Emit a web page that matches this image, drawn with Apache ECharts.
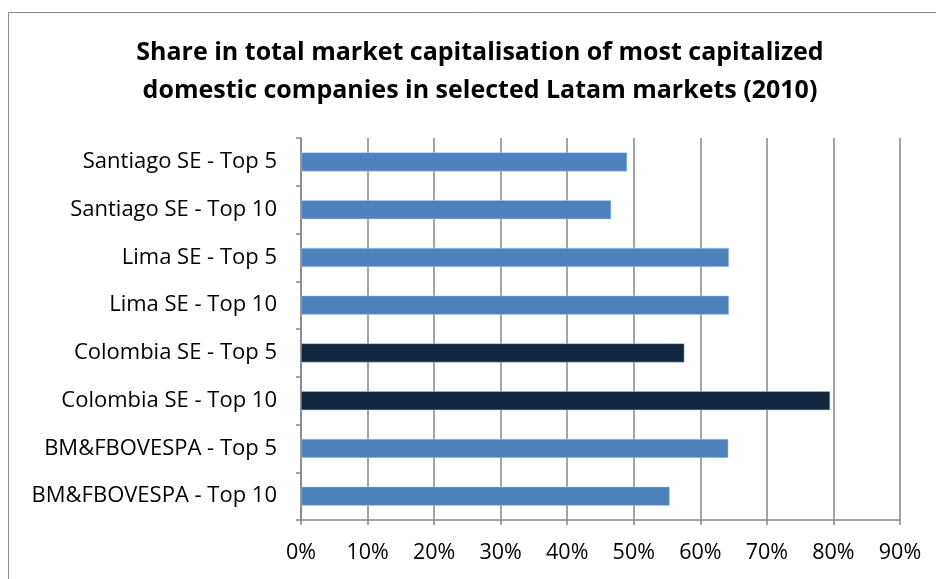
<!DOCTYPE html>
<html>
<head>
<meta charset="utf-8">
<script src="https://cdn.jsdelivr.net/npm/echarts@6/dist/echarts.min.js"></script>
<style>html,body{margin:0;padding:0;background:#fff;}#c{width:936px;height:579px;}</style>
</head>
<body>
<div id="c"></div>
<script>
const titleLines = ["Share in total market capitalisation of most capitalized", "domestic companies in selected Latam markets (2010)"];
const categories = ["Santiago SE - Top 5", "Santiago SE - Top 10", "Lima SE - Top 5", "Lima SE - Top 10", "Colombia SE - Top 5", "Colombia SE - Top 10", "BM&FBOVESPA - Top 5", "BM&FBOVESPA - Top 10"];
const shareValues = [49.0, 46.6, 64.3, 64.3, 57.6, 79.5, 64.2, 55.4];
const highlighted = ["Colombia SE - Top 5", "Colombia SE - Top 10"];
const xTicks = [0, 10, 20, 30, 40, 50, 60, 70, 80, 90];

const FONT = "'Open Sans', sans-serif";
const chart = echarts.init(document.getElementById('c'));
chart.setOption({
  animation: false,
  backgroundColor: '#ffffff',
  graphic: [
    { type: 'rect', shape: { x: 8.5, y: 12.5, width: 1000, height: 1000 }, style: { fill: 'none', stroke: '#8c8c8c', lineWidth: 1 }, z: -1 },
    { type: 'text', x: 480, y: 72, style: { text: titleLines.join('\n'), fill: '#000', font: "bold 25px " + FONT, align: 'center', verticalAlign: 'middle', lineHeight: 38 } }
  ],
  grid: { left: 301, right: 36, top: 138, bottom: 59, containLabel: false },
  xAxis: {
    type: 'value', min: xTicks[0], max: xTicks[xTicks.length - 1], interval: xTicks[1] - xTicks[0],
    axisLine: { show: true, lineStyle: { color: '#868686', width: 1.5 } },
    axisTick: { show: true, length: 5, lineStyle: { color: '#868686', width: 1.5 } },
    axisLabel: { formatter: v => v + '%', color: '#000', fontFamily: FONT, fontSize: 21.5, margin: 22 },
    splitLine: { show: true, lineStyle: { color: '#868686', width: 1.5 } }
  },
  yAxis: {
    type: 'category', data: categories, inverse: true,
    axisLine: { show: true, lineStyle: { color: '#868686', width: 1.5 } },
    axisTick: { show: true, length: 5, lineStyle: { color: '#868686', width: 1.5 } },
    axisLabel: { color: '#000', fontFamily: FONT, fontSize: 22, margin: 24 }
  },
  series: [{
    type: 'bar',
    data: shareValues.map((v, i) => ({
      value: v,
      itemStyle: { color: highlighted.includes(categories[i]) ? '#12263f' : '#4f81bd' }
    })),
    barWidth: 19,
    itemStyle: { borderColor: '#b9cde5', borderWidth: 0.5 }
  }]
});
</script>
</body>
</html>
